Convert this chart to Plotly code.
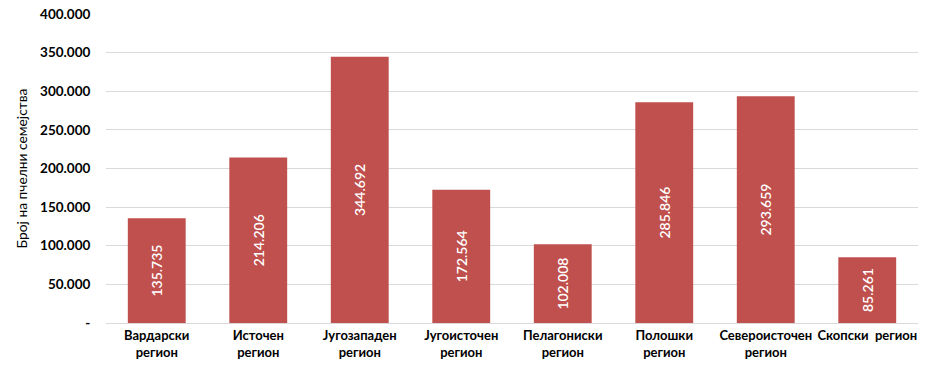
import plotly.graph_objects as go

categories = ["Вардарски<br>регион", "Источен<br>регион", "Југозападен<br>регион",
              "Југоисточен<br>регион", "Пелагониски<br>регион", "Полошки<br>регион",
              "Североисточен<br>регион", "Скопски  регион"]
values = [135735, 214206, 344692, 172564, 102008, 285846, 293659, 85261]
tick_vals = [0, 50000, 100000, 150000, 200000, 250000, 300000, 350000, 400000]
tick_text = ["-", "50.000", "100.000", "150.000", "200.000", "250.000", "300.000", "350.000", "400.000"]

def fmt(v):
    return f"{v:,}".replace(",", ".")

fig = go.Figure(go.Bar(
    x=categories, y=values,
    marker=dict(color="#C0504D", line=dict(width=0)),
    text=[fmt(v) for v in values],
    textposition="inside", insidetextanchor="middle", textangle=-90,
    textfont=dict(color="white", size=14, family="Lato", weight=600),
    width=0.57,
))
fig.update_layout(
    width=930, height=372,
    margin=dict(l=106, r=12, t=14, b=49),
    plot_bgcolor="white", paper_bgcolor="white",
    font=dict(family="Lato", color="#000000"),
    showlegend=False,
    uniformtext=dict(minsize=8, mode="show"),
)
fig.update_xaxes(
    automargin=False,
    tickfont=dict(size=13, family="Lato", weight="bold"),
    showgrid=False, showline=True, linecolor="#D9D9D9", ticks="",
)
fig.update_yaxes(
    automargin=False, ticklabeloverflow="allow",
    range=[0, 400000], tickvals=tick_vals, ticktext=tick_text,
    tickfont=dict(size=13.5, family="Lato", weight="bold"),
    showgrid=True, gridcolor="#D9D9D9", gridwidth=1, zeroline=False,
    title=dict(text="Број на пчелни семејства", font=dict(size=13.8, family="Lato"), standoff=9),
    ticks="outside", ticklen=12, tickcolor="white",
)
fig.write_html("out.html", config={"displayModeBar": False},
               post_script="document.body.style.margin='0px';")
